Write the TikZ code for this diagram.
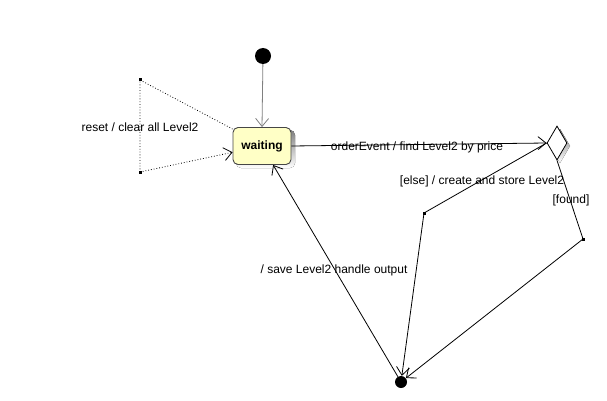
\documentclass[tikz,border=0pt]{standalone}
\usepackage{fontspec}
\setmainfont{Liberation Sans}
\usetikzlibrary{arrows.meta,shapes.geometric}
\definecolor{stfill}{RGB}{255,255,198}
\definecolor{stdraw}{RGB}{70,70,70}
\definecolor{shade}{RGB}{128,128,128}
\tikzset{
  lbl/.style={font=\fontsize{12}{14}\selectfont, inner sep=0pt},
  trans/.style={draw=black, line width=0.8pt, -{Straight Barb[length=8pt,width=13pt,line width=0.8pt]}},
  plain/.style={draw=black, line width=0.8pt},
  dot/.style={circle, fill=black, inner sep=0pt},
  corner/.style={fill=black, inner sep=0pt, minimum size=3pt},
}
\begin{document}
\begin{tikzpicture}[x=1pt,y=-1pt]
\useasboundingbox (0,0) rectangle (607,401);
% shadows
\fill[shade, rounded corners=5pt] (236,130) rectangle (295,168);
\fill[shade] (560,129) -- (570,146) -- (560,163) -- (550,146) -- cycle;
% nodes
\node[dot, minimum size=16pt] (init) at (263,56) {};
\node[draw=stdraw, fill=stfill, rounded corners=5pt, line width=0.9pt, minimum width=58pt, minimum height=37pt, font=\bfseries\fontsize{12}{14}\selectfont] (w) at (262,146) {waiting};
\node[diamond, draw=black, fill=white, line width=0.8pt, inner sep=0pt, minimum width=20pt, minimum height=34pt] (dia) at (557,143) {};
\node[dot, minimum size=12pt] (fin) at (401,382) {};
\node[corner] (c1) at (140,80) {};
\node[corner] (c2) at (140,172) {};
\node[corner] (e1) at (424,213) {};
\node[corner] (f1) at (583,239) {};
% transitions
\draw[trans, draw=shade, -{Straight Barb[length=8pt,width=13pt,line width=0.8pt,color=shade]}] (init) -- (w.north);
\draw[plain, dotted] (w.150) -- (c1.center) -- (c2.center);
\draw[trans, dotted] (c2.center) -- (w.192);
\draw[trans] (w.east) -- (dia.west);
\draw[plain] (dia.west) -- (e1.center);
\draw[trans] (e1.center) -- (fin);
\draw[plain] (dia.south) -- (f1.center);
\draw[trans] (f1.center) -- (fin);
\draw[trans] (fin) -- (w);
% labels
\node[lbl] (l1) at (140,127) {reset / clear all Level2};
\node[lbl] (l2) at (417,147) {orderEvent / find Level2 by price};
\node[lbl] (l3) at (482,181) {[else] / create and store Level2};
\node[lbl] (l4) at (571,200) {[found]};
\node[lbl] (l5) at (334,270) {/ save Level2 handle output};
\end{tikzpicture}
\end{document}
